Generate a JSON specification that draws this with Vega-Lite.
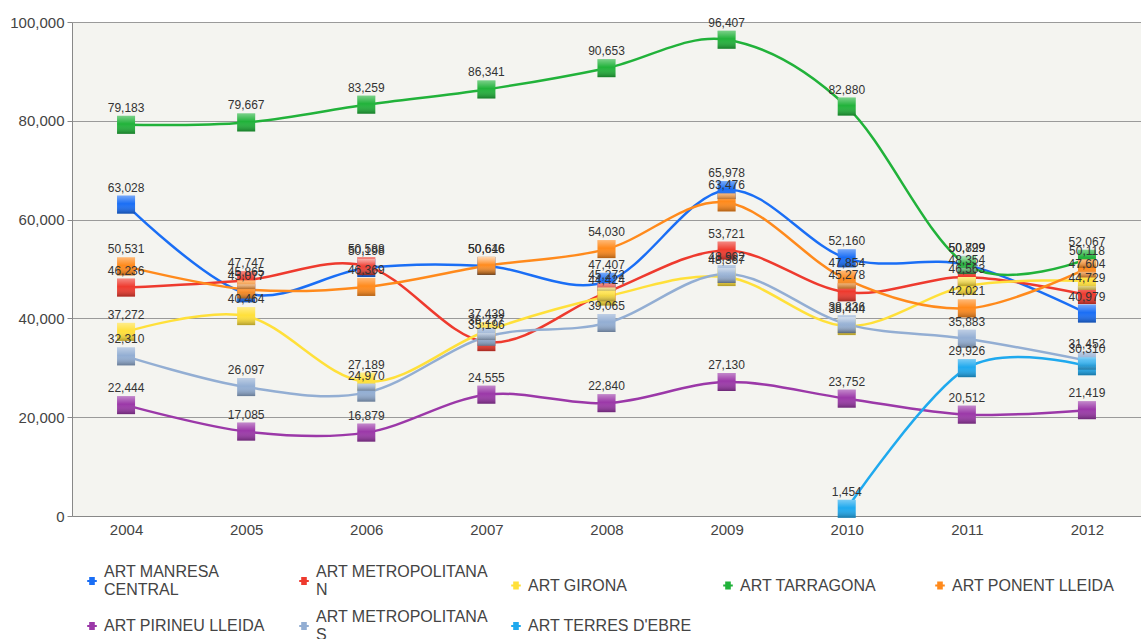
{
  "$schema": "https://vega.github.io/schema/vega-lite/v6.json",
  "width": 1069,
  "height": 494,
  "autosize": {"type": "none"},
  "padding": {"left": 72, "top": 22, "right": 0, "bottom": 123},
  "background": "white",
  "config": {"view": {"fill": "#f4f4f0", "stroke": null}, "font": "Liberation Sans"},
  "data": {"values": [
    {"year": "2004", "series": "ART MANRESA CENTRAL", "value": 63028},
    {"year": "2005", "series": "ART MANRESA CENTRAL", "value": 45077},
    {"year": "2006", "series": "ART MANRESA CENTRAL", "value": 50198},
    {"year": "2007", "series": "ART MANRESA CENTRAL", "value": 50616},
    {"year": "2008", "series": "ART MANRESA CENTRAL", "value": 47407},
    {"year": "2009", "series": "ART MANRESA CENTRAL", "value": 65978},
    {"year": "2010", "series": "ART MANRESA CENTRAL", "value": 52160},
    {"year": "2011", "series": "ART MANRESA CENTRAL", "value": 50829},
    {"year": "2012", "series": "ART MANRESA CENTRAL", "value": 40979},
    {"year": "2004", "series": "ART METROPOLITANA N", "value": 46236},
    {"year": "2005", "series": "ART METROPOLITANA N", "value": 47747},
    {"year": "2006", "series": "ART METROPOLITANA N", "value": 50588},
    {"year": "2007", "series": "ART METROPOLITANA N", "value": 35196},
    {"year": "2008", "series": "ART METROPOLITANA N", "value": 45272},
    {"year": "2009", "series": "ART METROPOLITANA N", "value": 53721},
    {"year": "2010", "series": "ART METROPOLITANA N", "value": 45278},
    {"year": "2011", "series": "ART METROPOLITANA N", "value": 48354},
    {"year": "2012", "series": "ART METROPOLITANA N", "value": 44729},
    {"year": "2004", "series": "ART GIRONA", "value": 37272},
    {"year": "2005", "series": "ART GIRONA", "value": 40464},
    {"year": "2006", "series": "ART GIRONA", "value": 27189},
    {"year": "2007", "series": "ART GIRONA", "value": 37439},
    {"year": "2008", "series": "ART GIRONA", "value": 44424},
    {"year": "2009", "series": "ART GIRONA", "value": 48367},
    {"year": "2010", "series": "ART GIRONA", "value": 38444},
    {"year": "2011", "series": "ART GIRONA", "value": 46563},
    {"year": "2012", "series": "ART GIRONA", "value": 47604},
    {"year": "2004", "series": "ART TARRAGONA", "value": 79183},
    {"year": "2005", "series": "ART TARRAGONA", "value": 79667},
    {"year": "2006", "series": "ART TARRAGONA", "value": 83259},
    {"year": "2007", "series": "ART TARRAGONA", "value": 86341},
    {"year": "2008", "series": "ART TARRAGONA", "value": 90653},
    {"year": "2009", "series": "ART TARRAGONA", "value": 96407},
    {"year": "2010", "series": "ART TARRAGONA", "value": 82880},
    {"year": "2011", "series": "ART TARRAGONA", "value": 50799},
    {"year": "2012", "series": "ART TARRAGONA", "value": 52067},
    {"year": "2004", "series": "ART PONENT LLEIDA", "value": 50531},
    {"year": "2005", "series": "ART PONENT LLEIDA", "value": 45865},
    {"year": "2006", "series": "ART PONENT LLEIDA", "value": 46369},
    {"year": "2007", "series": "ART PONENT LLEIDA", "value": 50646},
    {"year": "2008", "series": "ART PONENT LLEIDA", "value": 54030},
    {"year": "2009", "series": "ART PONENT LLEIDA", "value": 63476},
    {"year": "2010", "series": "ART PONENT LLEIDA", "value": 47854},
    {"year": "2011", "series": "ART PONENT LLEIDA", "value": 42021},
    {"year": "2012", "series": "ART PONENT LLEIDA", "value": 50118},
    {"year": "2004", "series": "ART PIRINEU LLEIDA", "value": 22444},
    {"year": "2005", "series": "ART PIRINEU LLEIDA", "value": 17085},
    {"year": "2006", "series": "ART PIRINEU LLEIDA", "value": 16879},
    {"year": "2007", "series": "ART PIRINEU LLEIDA", "value": 24555},
    {"year": "2008", "series": "ART PIRINEU LLEIDA", "value": 22840},
    {"year": "2009", "series": "ART PIRINEU LLEIDA", "value": 27130},
    {"year": "2010", "series": "ART PIRINEU LLEIDA", "value": 23752},
    {"year": "2011", "series": "ART PIRINEU LLEIDA", "value": 20512},
    {"year": "2012", "series": "ART PIRINEU LLEIDA", "value": 21419},
    {"year": "2004", "series": "ART METROPOLITANA S", "value": 32310},
    {"year": "2005", "series": "ART METROPOLITANA S", "value": 26097},
    {"year": "2006", "series": "ART METROPOLITANA S", "value": 24970},
    {"year": "2007", "series": "ART METROPOLITANA S", "value": 36277},
    {"year": "2008", "series": "ART METROPOLITANA S", "value": 39065},
    {"year": "2009", "series": "ART METROPOLITANA S", "value": 48992},
    {"year": "2010", "series": "ART METROPOLITANA S", "value": 38836},
    {"year": "2011", "series": "ART METROPOLITANA S", "value": 35883},
    {"year": "2012", "series": "ART METROPOLITANA S", "value": 31452},
    {"year": "2010", "series": "ART TERRES D'EBRE", "value": 1454},
    {"year": "2011", "series": "ART TERRES D'EBRE", "value": 29926},
    {"year": "2012", "series": "ART TERRES D'EBRE", "value": 30310}
  ]},
  "encoding": {
    "x": {
      "field": "year", "type": "ordinal",
      "scale": {"type": "point", "padding": 0.45},
      "axis": {"title": null, "labelAngle": 0, "labelFontSize": 15, "labelColor": "#444", "domainColor": "#888", "ticks": false, "labelPadding": 6, "grid": false}
    },
    "y": {
      "field": "value", "type": "quantitative",
      "scale": {"domain": [0, 100000], "nice": false},
      "axis": {"title": null, "values": [0, 20000, 40000, 60000, 80000, 100000], "labelExpr": "format(datum.value, ',')", "grid": true, "gridColor": "#9a9a9a", "domainColor": "#888", "tickColor": "#888", "tickSize": 5, "labelFontSize": 15, "labelColor": "#444", "labelPadding": 3}
    }
  },
  "layer": [
    {
      "mark": {"type": "line", "interpolate": "cardinal", "strokeWidth": 2.5},
      "encoding": {
        "color": {"field": "series", "type": "nominal",
          "scale": {"domain": ["ART MANRESA CENTRAL", "ART METROPOLITANA N", "ART GIRONA", "ART TARRAGONA", "ART PONENT LLEIDA", "ART PIRINEU LLEIDA", "ART METROPOLITANA S", "ART TERRES D'EBRE"],
                    "range": ["#1a6ef5", "#ee3a2e", "#ffe03a", "#21b23a", "#ff8a1c", "#9b38a8", "#93aed3", "#1fa9ee"]}}
      }
    },
    {
      "mark": {"type": "point", "shape": "square", "filled": true, "size": 324, "opacity": 1},
      "encoding": {
        "color": {"field": "series", "type": "nominal",
          "legend": {
            "title": null, "orient": "none", "legendX": 12, "legendY": 551, "direction": "horizontal", "columns": 5, "gridAlign": "all",
            "columnPadding": 20, "rowPadding": 11, "labelFontSize": 16, "labelColor": "#444", "labelLimit": 300, "labelOffset": 4,
            "symbolType": "M-0.35,-0.5H0.35V0.5H-0.35Z M-0.6,-0.12H0.6V0.12H-0.6Z", "symbolSize": 256, "symbolStrokeWidth": 0, "symbolOpacity": 1,
            "labelExpr": "datum.label == 'ART MANRESA CENTRAL' ? ['ART MANRESA', 'CENTRAL'] : datum.label == 'ART METROPOLITANA N' ? ['ART METROPOLITANA', 'N'] : datum.label == 'ART METROPOLITANA S' ? ['ART METROPOLITANA', 'S'] : datum.label",
            "encode": {"labels": {"update": {"dy": {"signal": "indexof(['ART MANRESA CENTRAL', 'ART METROPOLITANA N', 'ART METROPOLITANA S'], datum.label) >= 0 ? -9 : 0"}}}}
          }}
      }
    },
    {
      "mark": {"type": "point", "shape": "square", "filled": true, "size": 324, "opacity": 1,
        "fill": {"gradient": "linear", "x1": 0, "y1": 0, "x2": 0, "y2": 1,
          "stops": [{"offset": 0, "color": "rgba(255,255,255,0.4)"}, {"offset": 0.45, "color": "rgba(255,255,255,0)"}, {"offset": 1, "color": "rgba(0,0,0,0.3)"}]}}
    },
    {
      "mark": {"type": "text", "dy": -17, "fontSize": 12, "fill": "#333", "baseline": "middle"},
      "encoding": {"text": {"field": "value", "type": "quantitative", "format": ","}}
    }
  ]
}
